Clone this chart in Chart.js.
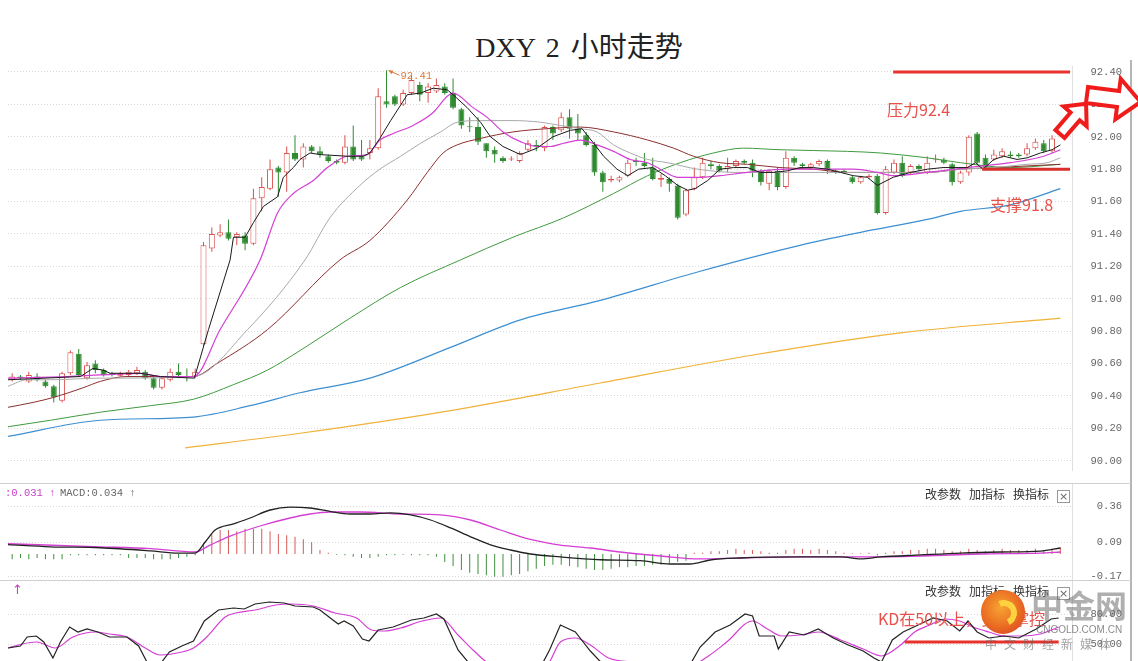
<!DOCTYPE html>
<html>
<head>
<meta charset="utf-8">
<script src="https://cdn.jsdelivr.net/npm/chart.js@4.4.1/dist/chart.umd.min.js"></script>
<style>
  body { margin: 0; background: #fff; }
  #wrap { position: relative; width: 1138px; height: 661px; overflow: hidden; background: #fff; font-family: 'Noto Sans CJK SC', sans-serif; }
  .abs { position: absolute; white-space: nowrap; }
  canvas { position: absolute; left: 0; }
  .tools { position: absolute; left: 925px; font-size: 12px; color: #333; line-height: 16px; white-space: nowrap; }
  .tools span { margin-right: 8px; }
  .tools b { display: inline-block; width: 11px; height: 11px; border: 1px solid #999; font: normal 11px/11px 'DejaVu Sans'; text-align: center; color: #666; vertical-align: -1px; }
  .red { color: #e8504a; font-size: 16px; }
</style>
</head>
<body>
<div id="wrap">
  <div class="abs" style="left:1130px;top:60px;width:2px;height:601px;background:#b5b5b5"></div>
  <div class="abs" style="left:0;top:32px;width:1158px;text-align:center;font:28px/32px 'Liberation Serif','Noto Sans CJK SC';color:#222;word-spacing:4px">DXY 2 小时走势</div>
  <canvas id="mainChart" width="1138" height="480" style="top:0"></canvas>
  <div class="abs" style="left:0;top:483px;width:1131px;height:0;border-top:1px solid #d0d0d0"></div>
  <canvas id="macdChart" width="1138" height="96" style="top:484px"></canvas>
  <div class="abs" style="left:0;top:580px;width:1131px;height:0;border-top:1px solid #d0d0d0"></div>
  <canvas id="kdChart" width="1138" height="80" style="top:581px"></canvas>

  <div class="abs red" style="left:887px;top:97px">压力92.4</div>
  <div class="abs red" style="left:990px;top:192px">支撑91.8</div>

  <div class="abs" style="left:5px;top:487px;font:10.5px 'Liberation Mono';color:#c83ec8">:0.031 ↑</div>
  <div class="abs" style="left:60px;top:487px;font:10.5px 'Liberation Mono';color:#666">MACD:0.034 ↑</div>
  <div class="tools" style="top:486px"><span>改参数</span><span>加指标</span><span>换指标</span><b>×</b></div>

  <div class="abs" style="left:12px;top:582px;font:13px 'DejaVu Sans';color:#c83ec8">↑</div>
  <div class="tools" style="top:583px"><span>改参数</span><span>加指标</span><span>换指标</span><b>×</b></div>
  <div class="abs red" style="left:878px;top:606px">KD在50以上，多头掌控</div>

  <div class="abs" style="left:981px;top:590px;width:44px;height:44px;border-radius:50%;background:radial-gradient(circle at 45% 40%,#f6a532 0%,#ea6a22 55%,#cf3a23 100%)"></div>
  <div class="abs" style="left:991px;top:600px;width:14px;height:14px;border-radius:50%;border:6px solid #ffd23f;border-left-color:transparent;border-bottom-color:transparent;transform:rotate(20deg)"></div>
  <div class="abs" style="left:1031px;top:584px;font:bold 32px/40px 'Noto Sans CJK SC';color:rgba(110,110,110,0.55)">中金网</div>
  <div class="abs" style="left:1036px;top:624px;font:10px 'Liberation Sans';color:rgba(100,100,100,0.75)">CNGOLD.COM.CN</div>
  <div class="abs" style="left:985px;top:635px;font:12px 'Noto Sans CJK SC';color:rgba(100,100,100,0.6);letter-spacing:7px">中文财经新媒体</div>
</div>

<script>
// 2-hour candles, index 0..126
const candleOpen = [
  90.50, 90.52, 90.49, 90.52, 90.49, 90.46, 90.37, 90.54, 90.66, 90.51,
  90.60, 90.56, 90.54, 90.525, 90.53, 90.54, 90.55, 90.51, 90.45, 90.50,
  90.55, 90.52, 90.52, 90.72, 91.31, 91.39, 91.41, 91.38, 91.39, 91.34,
  91.62, 91.68, 91.81, 91.78, 91.90, 91.86, 91.94, 91.91, 91.88, 91.85,
  91.84, 91.94, 91.88, 91.90, 91.93, 92.22, 92.25, 92.20, 92.27, 92.32,
  92.27, 92.28, 92.31, 92.27, 92.17, 92.06, 92.06, 91.96, 91.92, 91.87,
  91.86, 91.85, 91.92, 91.95, 91.93, 92.06, 92.04, 92.12, 92.05, 92.01,
  91.95, 91.78, 91.73, 91.73, 91.76, 91.85, 91.84, 91.81, 91.735, 91.74,
  91.70, 91.52, 91.68, 91.75, 91.83, 91.82, 91.80, 91.82, 91.85, 91.84,
  91.79, 91.71, 91.79, 91.69, 91.87, 91.83, 91.81, 91.83, 91.85, 91.79,
  91.79, 91.75, 91.72, 91.75, 91.76, 91.53, 91.78, 91.84, 91.78, 91.82,
  91.78, 91.86, 91.86, 91.83, 91.72, 91.78, 92.02, 91.87, 91.86, 91.88,
  91.89, 91.89, 91.89, 91.93, 91.96, 91.91, 92.01
];
const candleHigh = [
  90.54, 90.53, 90.55, 90.54, 90.50, 90.47, 90.55, 90.68, 90.69, 90.61,
  90.62, 90.57, 90.55, 90.55, 90.56, 90.58, 90.56, 90.52, 90.52, 90.57,
  90.60, 90.57, 90.57, 91.35, 91.44, 91.46, 91.49, 91.41, 91.41, 91.68,
  91.75, 91.86, 91.82, 91.94, 92.01, 91.96, 91.95, 91.94, 91.89, 91.86,
  92.01, 92.07, 91.98, 91.98, 92.30, 92.41, 92.26, 92.29, 92.38, 92.34,
  92.33, 92.36, 92.33, 92.36, 92.18, 92.12, 92.12, 91.96, 91.94, 91.88,
  91.88, 91.91, 91.98, 91.98, 92.07, 92.07, 92.15, 92.17, 92.14, 92.03,
  91.97, 91.79, 91.76, 91.76, 91.86, 91.87, 91.90, 91.87, 91.77, 91.75,
  91.71, 91.68, 91.81, 91.87, 91.85, 91.83, 91.87, 91.86, 91.86, 91.86,
  91.80, 91.80, 91.81, 91.91, 91.88, 91.84, 91.84, 91.86, 91.86, 91.80,
  91.80, 91.76, 91.76, 91.77, 91.77, 91.82, 91.86, 91.88, 91.83, 91.83,
  91.88, 91.89, 91.87, 91.84, 91.79, 92.01, 92.03, 91.89, 91.92, 91.93,
  91.91, 91.90, 91.96, 91.99, 91.98, 92.01, 92.05
];
const candleLow = [
  90.49, 90.50, 90.48, 90.49, 90.45, 90.36, 90.36, 90.53, 90.52, 90.50,
  90.54, 90.52, 90.52, 90.52, 90.52, 90.53, 90.50, 90.44, 90.44, 90.49,
  90.51, 90.49, 90.51, 90.71, 91.29, 91.38, 91.36, 91.33, 91.30, 91.33,
  91.54, 91.67, 91.63, 91.66, 91.85, 91.81, 91.90, 91.87, 91.84, 91.83,
  91.83, 91.85, 91.85, 91.86, 91.92, 92.18, 92.19, 92.19, 92.26, 92.22,
  92.21, 92.27, 92.26, 92.17, 92.05, 92.03, 91.95, 91.87, 91.84, 91.84,
  91.85, 91.84, 91.91, 91.91, 91.91, 91.98, 92.03, 91.99, 91.98, 91.94,
  91.76, 91.66, 91.72, 91.72, 91.75, 91.82, 91.81, 91.73, 91.69, 91.66,
  91.49, 91.51, 91.67, 91.74, 91.80, 91.78, 91.78, 91.81, 91.83, 91.75,
  91.70, 91.67, 91.67, 91.68, 91.82, 91.81, 91.80, 91.82, 91.77, 91.77,
  91.77, 91.71, 91.71, 91.74, 91.52, 91.52, 91.77, 91.75, 91.77, 91.79,
  91.77, 91.84, 91.83, 91.70, 91.71, 91.76, 91.83, 91.80, 91.85, 91.87,
  91.87, 91.87, 91.88, 91.92, 91.90, 91.90, 92.00
];
const candleClose = [
  90.52, 90.51, 90.53, 90.50, 90.46, 90.39, 90.54, 90.67, 90.53, 90.59,
  90.56, 90.53, 90.53, 90.535, 90.55, 90.56, 90.51, 90.45, 90.51, 90.55,
  90.53, 90.515, 90.55, 91.33, 91.40, 91.41, 91.37, 91.40, 91.34, 91.62,
  91.69, 91.80, 91.78, 91.90, 91.86, 91.94, 91.91, 91.89, 91.85, 91.84,
  91.94, 91.86, 91.86, 91.93, 92.25, 92.20, 92.20, 92.27, 92.35, 92.26,
  92.31, 92.32, 92.27, 92.18, 92.07, 92.059, 91.97, 91.91, 91.89, 91.85,
  91.865, 91.90, 91.96, 91.94, 92.06, 92.02, 92.12, 92.05, 92.02, 91.95,
  91.78, 91.72, 91.74, 91.75, 91.84, 91.845, 91.82, 91.74, 91.745, 91.71,
  91.50, 91.67, 91.75, 91.84, 91.82, 91.79, 91.82, 91.85, 91.84, 91.79,
  91.72, 91.79, 91.69, 91.87, 91.84, 91.82, 91.83, 91.85, 91.80, 91.785,
  91.78, 91.72, 91.75, 91.76, 91.53, 91.80, 91.84, 91.76, 91.82, 91.80,
  91.84, 91.865, 91.84, 91.72, 91.78, 92.00, 91.84, 91.81, 91.89, 91.91,
  91.88, 91.88, 91.93, 91.97, 91.91, 91.99, 92.03
];

// moving averages as [candle index, price]
const ma5 = [[-0.5,90.50],[8.2,90.52],[9.7,90.57],[10.9,90.56],[11.8,90.54],[15.4,90.54],[17.8,90.52],[21.9,90.51],
  [23.6,90.81],[26.2,91.24],[26.6,91.38],[28.0,91.38],[29.0,91.47],[30.2,91.57],[31.9,91.63],[32.6,91.75],[33.8,91.81],
  [34.6,91.86],[35.8,91.90],[37.0,91.89],[40.3,91.88],[42.2,91.88],[43.0,91.90],[44.2,91.99],[45.5,92.10],[47.5,92.26],
  [49.1,92.27],[50.6,92.30],[52.3,92.29],[53.0,92.26],[54.7,92.18],[56.3,92.09],[57.5,92.00],[59.0,91.94],[61.1,91.89],
  [63.1,91.93],[65.0,92.00],[67.1,92.04],[68.5,92.05],[69.9,91.96],[71.1,91.88],[72.7,91.80],[74.0,91.76],[75.3,91.80],
  [77.0,91.81],[78.5,91.76],[80.0,91.70],[81.2,91.67],[82.1,91.68],[83.6,91.73],[85.1,91.80],[86.7,91.81],[88.4,91.81],
  [89.9,91.78],[91.5,91.78],[93.2,91.79],[94.7,91.81],[96.3,91.81],[98.0,91.80],[99.6,91.78],[101.1,91.76],[102.8,91.75],
  [104.0,91.70],[105.9,91.75],[108.0,91.78],[110.0,91.80],[111.9,91.81],[114.8,91.81],[115.8,91.84],[116.7,91.80],
  [118.0,91.86],[119.2,91.88],[120.8,91.86],[122.0,91.87],[123.6,91.90],[125.0,91.92],[126.0,91.95]];
const ma10 = [[-0.5,90.51],[6.6,90.52],[10.6,90.53],[15.4,90.54],[17.8,90.52],[21.8,90.52],[25.0,90.81],[29.8,91.24],
  [31.9,91.53],[33.8,91.65],[36.2,91.73],[37.9,91.81],[40.3,91.88],[42.7,91.89],[44.2,91.98],[45.8,92.02],[48.2,92.07],
  [50.6,92.15],[52.3,92.25],[53.0,92.27],[55.4,92.18],[57.1,92.12],[59.0,92.03],[61.1,91.97],[63.1,91.94],[64.7,91.94],
  [66.3,91.96],[68.3,91.98],[70.3,91.95],[72.3,91.91],[74.3,91.86],[76.4,91.84],[77.9,91.80],[80.0,91.75],[82.4,91.75],
  [85.1,91.76],[88.4,91.78],[93.2,91.80],[96.3,91.80],[101.1,91.80],[104.0,91.78],[105.9,91.76],[110.0,91.78],
  [114.8,91.81],[120.0,91.84],[124.0,91.88],[126.0,91.92]];
const ma20 = [[-0.5,90.46],[1.8,90.50],[4.6,90.50],[10.6,90.51],[21.8,90.52],[28.3,90.81],[35.2,91.24],[38.2,91.50],
  [41.8,91.70],[44.2,91.80],[46.7,91.88],[49.1,91.96],[51.5,92.03],[53.5,92.09],[56.3,92.10],[60.2,92.10],[63.5,92.09],
  [65.9,92.07],[68.3,92.05],[70.3,92.03],[72.3,91.95],[74.3,91.90],[76.4,91.86],[78.8,91.84],[82.4,91.80],[87.2,91.78],
  [93.2,91.78],[98.7,91.78],[104.4,91.78],[110.0,91.78],[114.0,91.80],[118.0,91.81],[122.0,91.83],[124.4,91.84],[126.0,91.87]];
const ma30 = [[-0.5,90.33],[2.5,90.36],[4.9,90.39],[8.5,90.45],[10.6,90.49],[13.8,90.52],[21.8,90.52],[24.6,90.60],
  [30.7,90.81],[39.4,91.24],[43.0,91.36],[47.5,91.61],[49.9,91.78],[51.8,91.90],[53.5,91.95],[56.3,91.99],[60.2,92.03],
  [64.3,92.05],[68.3,92.06],[72.3,92.03],[76.4,91.98],[79.5,91.93],[81.9,91.88],[85.1,91.84],[88.4,91.83],[92.3,91.81],
  [96.3,91.80],[100.4,91.78],[103.5,91.78],[110.0,91.78],[114.0,91.80],[118.0,91.81],[126.0,91.83]];
const ma60 = [[-0.5,90.21],[4.6,90.25],[10.6,90.30],[16.6,90.34],[21.8,90.38],[26.6,90.47],[30.7,90.56],[34.6,90.68],
  [40.6,90.88],[46.7,91.07],[53.9,91.24],[60.2,91.38],[66.3,91.50],[72.3,91.65],[76.4,91.76],[80.3,91.84],[84.3,91.90],
  [87.9,91.93],[92.3,91.92],[100.4,91.91],[104.4,91.90],[110.0,91.87],[114.0,91.84],[120.0,91.81],[126.0,91.83]];
const ma120 = [[-0.5,90.15],[10.6,90.25],[21.8,90.27],[28.6,90.34],[34.6,90.42],[43.0,90.51],[52.7,90.70],[61.1,90.87],
  [70.7,90.99],[82.7,91.17],[94.7,91.33],[102.0,91.41],[110.0,91.49],[114.0,91.54],[120.0,91.58],[126.0,91.68]];
const ma250 = [[20.8,90.08],[34.6,90.17],[52.7,90.31],[70.7,90.48],[88.7,90.65],[106.8,90.79],[126.0,90.88]];

const priceTicks = [90.00, 90.20, 90.40, 90.60, 90.80, 91.00, 91.20, 91.40, 91.60, 91.80, 92.00, 92.20, 92.40];
const resistance = 92.4;
const support = 91.8;
const resistFrom = 105.9;
const supportFrom = 116.6;

// MACD panel
const macdTicks = [0.36, 0.09, -0.17];
const macdDif = [[-0.5,0.07],[4.6,0.054],[10.6,0.047],[16.6,0.024],[20.0,0.007],[22.0,0.007],[23.2,0.09],[24.4,0.18],
  [26.6,0.226],[28.6,0.27],[31.0,0.33],[33.4,0.352],[35.8,0.345],[38.2,0.32],[40.6,0.30],[43.0,0.30],[45.5,0.308],
  [47.9,0.293],[50.3,0.255],[52.7,0.196],[55.1,0.129],[57.5,0.069],[59.9,0.03],[62.3,0.0],[65.9,-0.022],[70.7,-0.043],
  [75.5,-0.05],[79.1,-0.075],[81.5,-0.075],[83.9,-0.045],[87.5,-0.03],[94.7,-0.022],[99.6,-0.022],[102.0,-0.037],
  [104.4,-0.022],[109.2,-0.007],[114.0,0.007],[118.8,0.015],[123.6,0.022],[126.0,0.045]];
const macdDea = [[-0.5,0.077],[10.6,0.054],[16.6,0.04],[22.0,0.015],[23.8,0.067],[26.2,0.134],[29.8,0.21],[33.4,0.27],
  [35.8,0.30],[38.2,0.315],[41.8,0.315],[46.7,0.30],[51.5,0.293],[55.1,0.255],[58.7,0.18],[62.3,0.11],[65.9,0.067],
  [69.5,0.045],[73.1,0.015],[78.0,-0.015],[82.7,-0.037],[87.5,-0.03],[94.7,-0.022],[102.0,-0.022],[109.2,-0.015],
  [116.4,0.0],[123.6,0.007],[126.0,0.015]];
const macdHist = [
  -0.04, -0.03, -0.04, -0.03, -0.04, -0.04, -0.04, -0.01, -0.01, -0.01, -0.01, -0.01, -0.01, -0.01,
  -0.03, -0.03, -0.03, -0.04, -0.04, -0.04, -0.03, -0.02, -0.01,
  0.08, 0.15, 0.18, 0.18, 0.17, 0.19, 0.19, 0.19, 0.17, 0.15, 0.14, 0.13, 0.11, 0.09, 0.03, 0.01,
  -0.005, -0.01, -0.02, -0.03, -0.03, -0.02, -0.01, -0.01, -0.005, -0.01, -0.01, -0.01, -0.02,
  -0.06, -0.09, -0.12, -0.14, -0.15, -0.16, -0.17, -0.17, -0.16, -0.15, -0.13, -0.11, -0.09, -0.08,
  -0.08, -0.09, -0.10, -0.11, -0.12, -0.12, -0.11, -0.10, -0.10, -0.09, -0.09, -0.08, -0.08, -0.07, -0.06, -0.05,
  0.01, 0.01, 0.02, 0.02, 0.03, 0.04, 0.03, 0.03, 0.02, 0.01, 0.01, 0.03, 0.04, 0.04, 0.03,
  0.04, 0.03, 0.02, 0.01, 0.005, 0.005, 0.01, -0.01, 0.01, 0.02, 0.02, 0.03, 0.03, 0.04, 0.04,
  0.03, 0.02, 0.02, 0.04, 0.03, 0.02, 0.03, 0.04, 0.03, 0.03, 0.03, 0.04, 0.03, 0.04, 0.05
];

// KD panel
const kdTicks = [80, 50];
const kdLevel = 50;
const kdK = [[-0.5,46],[1.0,48],[1.8,57],[2.9,58],[3.8,52],[4.9,36],[5.8,52],[6.9,67],[7.9,62],[9.0,65],[10.3,62],
  [11.7,57],[13.8,57],[15.2,48],[16.2,32],[17.8,30],[18.9,42],[20.4,48],[21.8,53],[23.1,73],[24.8,84],[26.6,86],
  [27.9,85],[29.2,90],[30.9,92],[32.7,91],[34.0,88],[36.2,87],[37.0,84],[38.4,75],[39.2,70],[39.9,73],[41.0,68],
  [42.1,55],[42.9,53],[44.0,64],[45.8,67],[48.0,74],[49.5,76],[51.0,80],[51.9,75],[53.6,44],[55.0,30],[57.6,22],
  [63.2,22],[64.6,44],[65.9,69],[67.7,62],[69.5,43],[71.2,28],[81.4,28],[82.7,47],[84.5,62],[86.3,69],[88.1,80],
  [89.0,78],[89.8,58],[91.6,58],[92.1,45],[93.4,62],[95.2,59],[96.9,65],[98.7,56],[100.5,49],[102.3,43],[103.6,36],
  [104.5,32],[105.8,54],[107.1,62],[108.9,69],[110.7,76],[112.4,73],[113.9,63],[114.9,73],[116.0,62],[117.4,56],
  [119.2,58],[121.0,56],[123.1,65],[124.9,75],[125.8,76]];
const kdD = [[-0.5,46],[1.2,50],[2.9,52],[5.2,46],[7.3,57],[10.0,62],[11.7,60],[13.8,57],[16.0,46],[17.8,39],[20.4,42],
  [21.8,46],[23.4,57],[25.6,77],[26.9,81],[29.2,84],[31.7,89],[33.5,90],[36.2,88],[38.8,81],[41.4,76],[43.2,64],
  [44.8,63],[46.7,66],[49.3,73],[51.5,76],[53.6,59],[55.4,44],[57.6,30],[64.1,28],[65.9,52],[67.7,56],[69.5,49],
  [71.7,36],[74.8,32],[79.2,30],[81.4,28],[83.7,38],[85.9,52],[89.0,73],[90.8,65],[92.5,58],[94.7,59],[96.9,62],
  [99.6,54],[102.3,45],[104.5,38],[106.8,49],[108.5,62],[110.3,69],[112.1,75],[113.9,73],[115.5,67],[117.4,62],
  [119.2,58],[121.3,58],[123.6,60],[125.8,67]];

const upColor = '#d9504c';
const downColor = '#2f8a30';
const isUp = i => candleClose[i] > candleOpen[i];
const toPts = arr => arr.map(([x, y]) => ({ x, y }));

function xAxis() {
  return { type: 'linear', min: -0.5, max: 127.4, display: false, offset: false, grid: { offset: false } };
}
function yAxis(min, max, ticks, fmt) {
  return {
    position: 'right', min, max,
    afterBuildTicks: s => { s.ticks = ticks.map(v => ({ value: v })); },
    afterFit: s => { s.width = 50; s.paddingTop = 0; s.paddingBottom = 0; },
    grid: { color: '#d8d8d8', drawTicks: false, lineWidth: 1 },
    border: { display: true, color: '#e0e0e0', dash: [1, 2] },
    ticks: { color: '#666', padding: 0, crossAlign: 'far', font: { family: 'Liberation Mono', size: 10.5 }, callback: fmt }
  };
}
function maLine(label, pts, color, width, smooth) {
  return {
    type: 'line', label, data: toPts(pts), borderColor: color, borderWidth: width,
    pointRadius: 0, order: 0, cubicInterpolationMode: smooth ? 'monotone' : 'default', tension: 0
  };
}
const common = {
  responsive: false, animation: false, devicePixelRatio: 1, events: [],
  plugins: { legend: { display: false }, tooltip: { enabled: false } }
};

function hollowArrow(ctx, x, y, angle, len) {
  ctx.save();
  ctx.translate(x, y);
  ctx.rotate(angle);
  const sh = len * 0.15, hh = len * 0.38, hl = len * 0.42;
  ctx.beginPath();
  ctx.moveTo(0, -sh); ctx.lineTo(len - hl, -sh); ctx.lineTo(len - hl, -hh); ctx.lineTo(len, 0);
  ctx.lineTo(len - hl, hh); ctx.lineTo(len - hl, sh); ctx.lineTo(0, sh); ctx.closePath();
  ctx.fillStyle = '#fff'; ctx.fill();
  ctx.lineWidth = 4; ctx.strokeStyle = '#f01c1c'; ctx.lineJoin = 'miter'; ctx.stroke();
  ctx.restore();
}

const mainDecor = {
  id: 'mainDecor',
  afterDatasetsDraw(chart) {
    const { ctx, chartArea } = chart;
    const x = chart.scales.x, y = chart.scales.y;
    ctx.save();
    ctx.lineWidth = 3;
    ctx.strokeStyle = '#e8322c';
    ctx.beginPath();
    ctx.moveTo(x.getPixelForValue(resistFrom), y.getPixelForValue(resistance));
    ctx.lineTo(chartArea.right - 2, y.getPixelForValue(resistance));
    ctx.stroke();
    ctx.strokeStyle = '#d8302a';
    ctx.beginPath();
    ctx.moveTo(x.getPixelForValue(supportFrom), y.getPixelForValue(support));
    ctx.lineTo(chartArea.right - 2, y.getPixelForValue(support));
    ctx.stroke();

    // peak label
    const top = Math.max(...candleHigh);
    const idx = candleHigh.indexOf(top);
    const px = x.getPixelForValue(idx), py = y.getPixelForValue(top);
    ctx.strokeStyle = '#e07a3a';
    ctx.fillStyle = '#e07a3a';
    ctx.lineWidth = 1;
    ctx.beginPath(); ctx.moveTo(px + 2, py); ctx.lineTo(px + 13, py + 5); ctx.stroke();
    ctx.beginPath(); ctx.moveTo(px + 2, py); ctx.lineTo(px + 7, py + 0.5); ctx.lineTo(px + 5, py + 4); ctx.closePath(); ctx.fill();
    ctx.font = "10.5px 'Liberation Mono'";
    ctx.textBaseline = 'middle';
    ctx.fillText(top.toFixed(2), px + 14, py + 6);
    ctx.restore();
  },
  afterDraw(chart) {
    const ctx = chart.ctx;
    hollowArrow(ctx, 1060, 134, -0.86, 40);
    hollowArrow(ctx, 1087, 95, 0.13, 54);
  }
};

const kdDecor = {
  id: 'kdDecor',
  afterDatasetsDraw(chart) {
    const { ctx } = chart;
    const x = chart.scales.x, y = chart.scales.y;
    ctx.save();
    ctx.lineWidth = 3;
    ctx.strokeStyle = '#e8322c';
    ctx.beginPath();
    ctx.moveTo(x.getPixelForValue(107.3), y.getPixelForValue(kdLevel) - 2);
    ctx.lineTo(x.getPixelForValue(125.8), y.getPixelForValue(kdLevel) - 2);
    ctx.stroke();
    ctx.restore();
  }
};

const idx = candleOpen.map((_, i) => i);

new Chart(document.getElementById('mainChart'), {
  type: 'bar',
  data: {
    datasets: [
      maLine('MA5', ma5, '#1a1a1a', 1, false),
      maLine('MA10', ma10, '#d43fd4', 1.2, true),
      maLine('MA20', ma20, '#a9a9a9', 1, true),
      maLine('MA30', ma30, '#8c2f2f', 1, true),
      maLine('MA60', ma60, '#3f9a3f', 1, true),
      maLine('MA120', ma120, '#3d8fd1', 1.2, true),
      maLine('MA250', ma250, '#f0b23a', 1.2, true),
      {
        label: 'body', order: 1, grouped: false,
        data: idx.map(i => ({ x: i, y: [candleOpen[i], candleClose[i]] })),
        backgroundColor: idx.map(i => isUp(i) ? '#ffffff' : downColor),
        borderColor: idx.map(i => isUp(i) ? upColor : downColor),
        borderWidth: 1, borderSkipped: false, barThickness: 6, minBarLength: 1, inflateAmount: 0
      },
      {
        label: 'wick', order: 2, grouped: false,
        data: idx.map(i => ({ x: i, y: [candleLow[i], candleHigh[i]] })),
        backgroundColor: idx.map(i => isUp(i) ? upColor : downColor),
        borderWidth: 0, barThickness: 1, inflateAmount: 0
      }
    ]
  },
  options: {
    ...common,
    layout: { padding: { left: 8, right: 16, top: 66, bottom: 10 } },
    scales: {
      x: xAxis(),
      y: yAxis(89.943, 92.437, priceTicks, v => v.toFixed(2))
    }
  },
  plugins: [mainDecor]
});

new Chart(document.getElementById('macdChart'), {
  type: 'bar',
  data: {
    datasets: [
      { type: 'line', label: 'DIF', data: toPts(macdDif), borderColor: '#222', borderWidth: 1.3, pointRadius: 0, cubicInterpolationMode: 'monotone', order: 0 },
      { type: 'line', label: 'DEA', data: toPts(macdDea), borderColor: '#d43fd4', borderWidth: 1.3, pointRadius: 0, cubicInterpolationMode: 'monotone', order: 0 },
      {
        label: 'MACD', order: 1,
        data: macdHist.map((v, i) => ({ x: i, y: v })),
        backgroundColor: macdHist.map(v => v >= 0 ? '#d65a56' : '#3f8f3f'),
        barThickness: 1, inflateAmount: 0
      }
    ]
  },
  options: {
    ...common,
    layout: { padding: { left: 8, right: 16, top: 0, bottom: 0 } },
    scales: {
      x: xAxis(),
      y: yAxis(-0.195, 0.525, macdTicks, v => v.toFixed(2))
    }
  }
});

new Chart(document.getElementById('kdChart'), {
  type: 'line',
  data: {
    datasets: [
      { label: 'K', data: toPts(kdK), borderColor: '#222', borderWidth: 1.2, pointRadius: 0, tension: 0 },
      { label: 'D', data: toPts(kdD), borderColor: '#d43fd4', borderWidth: 1.2, pointRadius: 0, cubicInterpolationMode: 'monotone' }
    ]
  },
  options: {
    ...common,
    layout: { padding: { left: 8, right: 16, top: 0, bottom: 0 } },
    scales: {
      x: xAxis(),
      y: yAxis(33, 113, kdTicks, v => v.toFixed(2))
    }
  },
  plugins: [kdDecor]
});
</script>
</body>
</html>
